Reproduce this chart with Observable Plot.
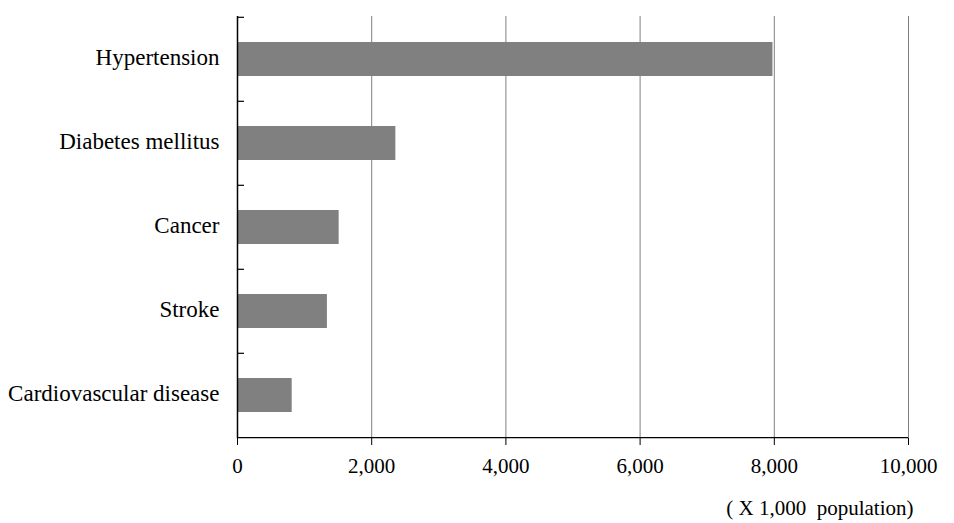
<!DOCTYPE html>
<html>
<head>
<meta charset="utf-8">
<script src="https://cdn.jsdelivr.net/npm/d3@7"></script>
<script src="https://cdn.jsdelivr.net/npm/@observablehq/plot@0.6"></script>
<style>
  body { margin: 0; background: #fff; }
</style>
</head>
<body>
<div id="chart"></div>
<script>
const categories = ["Hypertension", "Diabetes mellitus", "Cancer", "Stroke", "Cardiovascular disease"];
const values = [7980, 2360, 1515, 1340, 815];
const xTicks = [0, 2000, 4000, 6000, 8000, 10000];
const caption = "( X 1,000\u00a0\u00a0population)";

const data = categories.map((c, i) => ({category: c, value: values[i]}));

const W = 954, H = 523;
const mL = 237, mR = 46, mT = 16, mB = 85;
const step = (H - mT - mB) / categories.length;

const chart = Plot.plot({
  width: W,
  height: H,
  marginLeft: mL,
  marginRight: mR,
  marginTop: mT,
  marginBottom: mB,
  style: {fontFamily: "'Liberation Serif', 'Times New Roman', serif", fontSize: "21px", color: "#000", background: "#fff"},
  x: {domain: [0, 10000], ticks: xTicks, tickFormat: d3.format(","), label: null},
  y: {domain: categories, paddingInner: 0.6, paddingOuter: 0.3, label: null},
  marks: [
    Plot.gridX(xTicks, {stroke: "#808080", strokeOpacity: 1, strokeWidth: 1}),
    Plot.barX(data, {x: "value", y: "category", fill: "#808080"}),
    Plot.ruleX([0], {stroke: "#000", strokeWidth: 1.5}),
    Plot.ruleY(categories, {y: d => d, dy: -step / 2, stroke: "#000", strokeWidth: 1.2, insetRight: W - mL - mR - 7}),
    Plot.ruleY(categories.slice(-1), {y: d => d, dy: step / 2, stroke: "#000", strokeWidth: 1.2}),
    Plot.axisX(xTicks, {tickSize: 7, tickPadding: 13, tickFormat: d3.format(","), fontSize: 21, stroke: "#000"}),
    Plot.axisY({tickSize: 0, tickPadding: 18, fontSize: 23, dy: -2}),
    Plot.text([caption], {frameAnchor: "bottom-right", dx: 5, dy: 76, textAnchor: "end", fontSize: 21, fill: "#000"})
  ]
});
document.getElementById("chart").appendChild(chart);
</script>
</body>
</html>
